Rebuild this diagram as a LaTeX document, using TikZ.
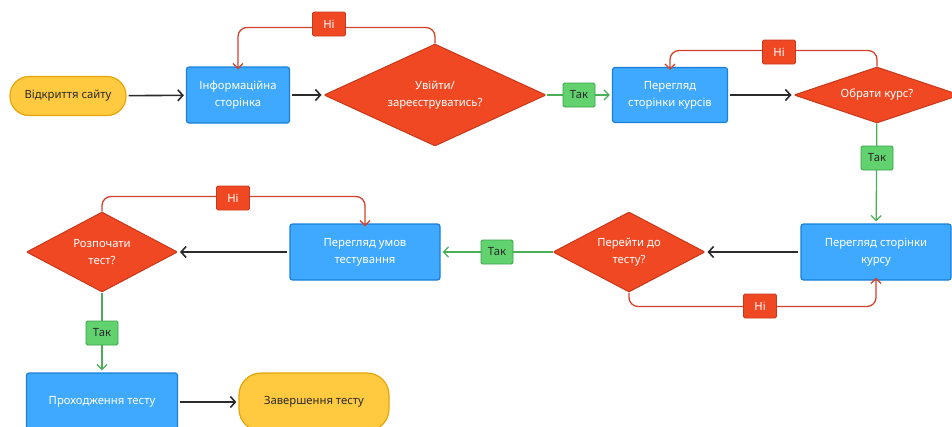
\documentclass[tikz,border=0pt]{standalone}
\usepackage{fontspec}
\setmainfont{Noto Sans}
\usetikzlibrary{shapes.geometric,arrows.meta}

\definecolor{termfill}{HTML}{FFC940}
\definecolor{termedge}{HTML}{E5A50A}
\definecolor{procfill}{HTML}{3FA9FF}
\definecolor{procedge}{HTML}{1A7FD8}
\definecolor{decfill}{HTML}{F04822}
\definecolor{decedge}{HTML}{C8381A}
\definecolor{yesfill}{HTML}{62D26F}
\definecolor{yesedge}{HTML}{3A9F4A}
\definecolor{yesline}{HTML}{4CAF58}
\definecolor{noline}{HTML}{D2412B}
\definecolor{darktext}{HTML}{2A2A2A}
\definecolor{flowline}{HTML}{2B2B2B}

\begin{document}
\begin{tikzpicture}[x=1pt,y=-1pt,
  every node/.style={font=\fontsize{11.3}{17}\selectfont, align=center, inner sep=0pt},
  term/.style={rectangle, rounded corners=19pt, fill=termfill, draw=termedge,
    line width=1.2pt, text=darktext},
  proc/.style={rectangle, rounded corners=2.5pt, fill=procfill, draw=procedge,
    line width=1.2pt, text=white},
  dec/.style={diamond, fill=decfill, draw=decedge, line width=1pt, text=white,
    rounded corners=1pt},
  yeslbl/.style={rectangle, rounded corners=1.5pt, fill=yesfill, draw=yesedge,
    line width=0.9pt, text=darktext, minimum width=32pt, minimum height=24pt},
  nolbl/.style={rectangle, rounded corners=1.5pt, fill=decfill, draw=decedge,
    line width=0.9pt, text=white, minimum width=33pt, minimum height=24pt},
  flow/.style={draw=flowline, line width=1.6pt, shorten >=2pt, shorten <=2pt,
    -{Straight Barb[length=5pt,width=11pt,line width=1.6pt]}},
  yesflow/.style={draw=yesline, line width=1.3pt, shorten >=2pt,
    -{Straight Barb[length=5pt,width=10pt,line width=1.3pt]}},
  noflow/.style={draw=noline, line width=1.3pt, rounded corners=9pt,
    -{Straight Barb[length=5pt,width=10pt,line width=1.3pt]}}
]
\useasboundingbox (0,0) rectangle (952,426);
\clip (0,0) rectangle (952,426);

% top row
\node[term, minimum width=116pt, minimum height=39pt] (start) at (68,96) {Відкриття сайту};
\node[proc, minimum width=103pt, minimum height=56pt] (info) at (238,95) {Інформаційна\\сторінка};
\node[dec, shape aspect=2.18, minimum width=222pt, minimum height=102pt] (login) at (435,95) {Увійти/\\зареєструватись?};
\node[proc, minimum width=115pt, minimum height=55pt] (courses) at (670,95) {Перегляд\\сторінки курсів};
\node[dec, shape aspect=2.96, minimum width=166pt, minimum height=56pt] (pick) at (877,95) {Обрати курс?};

% middle row
\node[proc, minimum width=150pt, minimum height=56pt] (course) at (876,252) {Перегляд сторінки\\курсу};
\node[dec, shape aspect=1.9, minimum width=152pt, minimum height=80pt] (gotest) at (629,252) {Перейти до\\тесту?};
\node[proc, minimum width=150pt, minimum height=56pt] (terms) at (365,252) {Перегляд умов\\тестування};
\node[dec, shape aspect=1.89, minimum width=151pt, minimum height=80pt] (begin) at (102,252) {Розпочати\\тест?};

% bottom row
\node[proc, minimum width=151pt, minimum height=58pt] (pass) at (102,402) {Проходження тесту};
\node[term, rounded corners=22pt, minimum width=150pt, minimum height=58pt] (finish) at (314,402) {Завершення тесту};

% main flow
\draw[flow] (start) -- (info);
\draw[flow] (info) -- (login);
\draw[yesflow] (login) -- (courses);
\draw[flow] (courses) -- (pick);
\draw[yesflow] (pick) -- (course);
\draw[flow] (course) -- (gotest);
\draw[yesflow] (gotest) -- (terms);
\draw[flow] (terms) -- (begin);
\draw[yesflow] (begin) -- (pass);
\draw[flow] (pass) -- (finish);

% "no" loops
\draw[noflow] (login.north) -- ++(0,-16) -| ([yshift=-3pt]info.north);
\draw[noflow] (pick.north) -- ++(0,-16) -| ([yshift=-3pt]courses.north);
\draw[noflow] (gotest.south) -- ++(0,14) -| ([yshift=3pt]course.south);
\draw[noflow] (begin.north) -- ++(0,-15) -| ([yshift=-3pt]terms.north);

% branch labels
\node[nolbl] (no1) at (329,24) {Ні};
\node[yeslbl] (yes1) at (579,95) {Так};
\node[nolbl] (no2) at (779,52) {Ні};
\node[yeslbl] (yes2) at (877,158) {Так};
\node[nolbl] (no3) at (760,306) {Ні};
\node[yeslbl] (yes3) at (497,252) {Так};
\node[nolbl] (no4) at (233,198) {Ні};
\node[yeslbl] (yes4) at (102,333) {Так};
\end{tikzpicture}
\end{document}
